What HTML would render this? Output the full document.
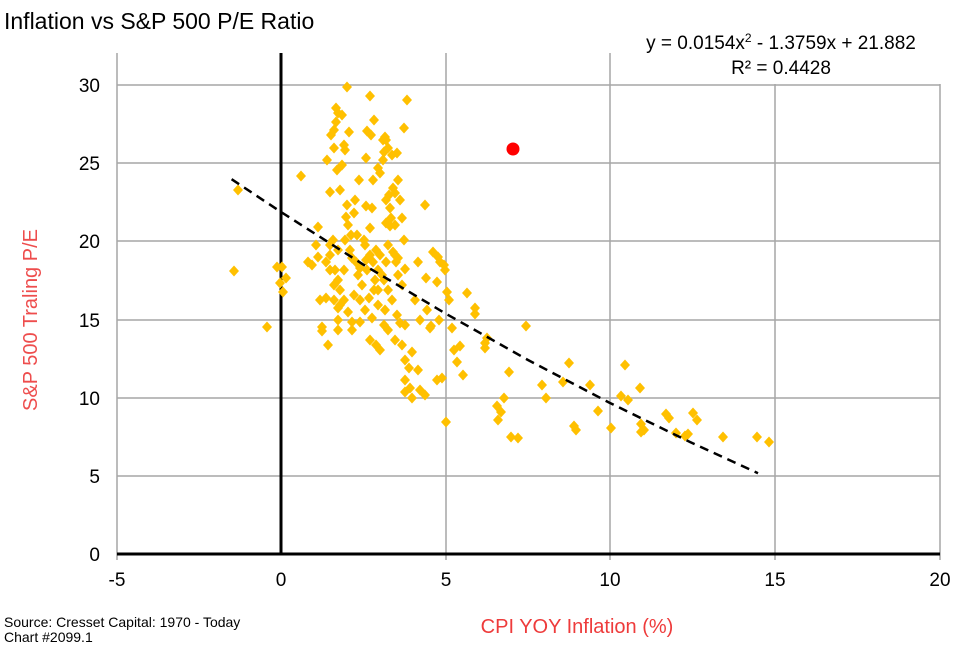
<!DOCTYPE html>
<html><head><meta charset="utf-8"><style>
body{margin:0;background:#fff;}
svg{display:block;font-family:"Liberation Sans",sans-serif;}
</style></head><body>
<svg width="971" height="660" viewBox="0 0 971 660" xmlns="http://www.w3.org/2000/svg">
<defs>
<marker id="d" markerUnits="userSpaceOnUse" markerWidth="12" markerHeight="12" refX="6" refY="6" viewBox="0 0 12 12" overflow="visible">
<polygon points="6,0.5 11,6 6,11.5 1,6" fill="#ffc000"/>
</marker>
</defs>
<rect width="971" height="660" fill="#fff"/>
<g stroke="#a6a6a6" stroke-width="1.5">
<line x1="117" y1="85" x2="940" y2="85"/><line x1="117" y1="163" x2="940" y2="163"/>
<line x1="117" y1="241" x2="940" y2="241"/><line x1="117" y1="320" x2="940" y2="320"/>
<line x1="117" y1="398" x2="940" y2="398"/><line x1="117" y1="476" x2="940" y2="476"/>
<line x1="117" y1="53" x2="117" y2="560"/><line x1="446" y1="53" x2="446" y2="560"/>
<line x1="610" y1="53" x2="610" y2="560"/><line x1="775" y1="53" x2="775" y2="560"/>
<line x1="940" y1="53" x2="940" y2="560"/>
</g>
<line x1="117" y1="554" x2="940" y2="554" stroke="#000" stroke-width="3"/>
<line x1="281" y1="53" x2="281" y2="555" stroke="#000" stroke-width="3"/>
<polyline fill="none" stroke="none" marker-start="url(#d)" marker-mid="url(#d)" marker-end="url(#d)" points="234,271 238,190 267,327 277,267 282,267 280,283 283,292 286,278 301,176 308,262 312,265 316,245 318,227 320,300 322,327 322,331 326,298 328,345 330,270 330,255 333,240 334,285 334,300 335,270 338,280 338,308 338,320 338,330 340,190 342,165 344,145 347,87 334,130 336,122 338,113 336,108 331,135 327,160 334,148 337,170 330,192 342,115 349,132 345,150 347,205 346,217 355,200 354,213 351,235 359,180 366,158 365,245 370,96 367,131 366,206 372,208 370,228 373,180 378,168 383,160 384,152 383,140 385,137 380,173 392,155 397,153 404,128 407,100 398,180 393,188 395,193 402,218 404,240 391,218 386,223 390,226 405,269 395,255 425,205 426,278 418,262 433,252 438,257 440,262 444,265 445,270 437,282 447,292 449,300 439,320 431,326 442,378 437,380 446,422 452,328 454,350 457,362 463,375 460,346 467,293 475,308 475,314 485,343 487,338 485,348 497,406 501,412 498,420 504,398 511,437 509,372 518,438 526,326 542,385 546,398 563,382 569,363 576,430 574,426 590,385 598,411 611,428 621,396 625,365 628,400 640,388 641,424 641,432 644,430 666,414 669,418 676,433 685,436 688,434 693,413 697,420 723,437 757,437 769,442 345,240 350,250 352,258 356,262 360,268 364,240 358,275 362,285 367,270 370,255 373,262 376,250 378,270 374,290 369,298 365,310 372,318 378,305 384,280 386,262 380,255 388,245 393,252 396,262 398,258 388,290 392,300 385,310 397,315 400,323 405,325 395,340 402,345 405,360 409,368 405,380 410,388 405,392 412,398 420,390 425,395 418,370 412,352 415,300 420,320 427,310 430,328 370,340 376,345 380,350 384,325 388,330 360,322 352,330 348,312 344,300 340,290 354,295 360,300 366,260 357,235 348,225 338,250 318,257 326,262 398,275 402,285 382,275 378,290 375,280 386,200 390,208 389,195 400,200 395,225 386,140 388,148 374,120 371,135 330,245 344,270 340,305 352,322"/>
<polyline points="231.6,179.2 281,212 364,265 445.5,313.5 528,360 610,403 690,442 758,473.2" fill="none" stroke="#000" stroke-width="2.5" stroke-dasharray="9,6"/>
<circle cx="513" cy="149" r="6.5" fill="#ff0000"/>
<rect x="612" y="27" width="340" height="57" fill="#fff"/>
<text x="781" y="49" font-size="19" text-anchor="middle" fill="#000">y = 0.0154x<tspan font-size="12" dy="-7">2</tspan><tspan dy="7"> - 1.3759x + 21.882</tspan></text>
<text x="781" y="74" font-size="19" text-anchor="middle" fill="#000">R² = 0.4428</text>
<text x="4" y="29" font-size="23" fill="#000">Inflation vs S&amp;P 500 P/E Ratio</text>
<g font-size="19" text-anchor="end" fill="#000">
<text x="100" y="92">30</text><text x="100" y="170">25</text><text x="100" y="248">20</text>
<text x="100" y="327">15</text><text x="100" y="405">10</text><text x="100" y="483">5</text><text x="100" y="561">0</text>
</g>
<g font-size="19" text-anchor="middle" fill="#000">
<text x="117" y="586">-5</text><text x="281" y="586">0</text><text x="446" y="586">5</text>
<text x="610" y="586">10</text><text x="775" y="586">15</text><text x="940" y="586">20</text>
</g>
<text transform="translate(37,320) rotate(-90)" font-size="20" text-anchor="middle" fill="#ee4d4d">S&amp;P 500 Traling P/E</text>
<text x="577" y="633" font-size="20" text-anchor="middle" fill="#ee3b3b">CPI YOY Inflation (%)</text>
<text x="4" y="627" font-size="14" fill="#000">Source:  Cresset Capital: 1970 - Today</text>
<text x="4" y="642" font-size="14" fill="#000">Chart #2099.1</text>
</svg>
</body></html>
